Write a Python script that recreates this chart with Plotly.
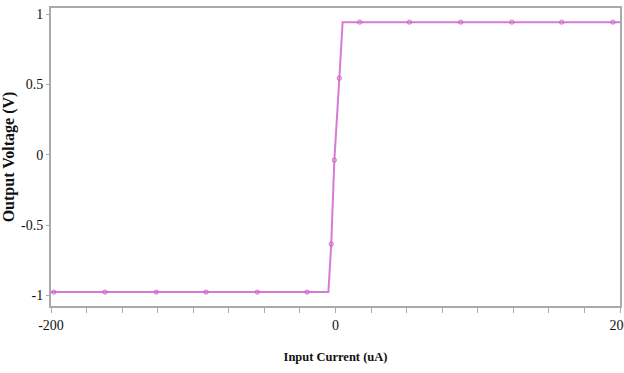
import plotly.graph_objects as go

# Data
current_ua = [-200, -198, -162, -126, -91, -55, -20, -5, -3, -0.8, 2.7, 5, 17, 52, 88, 124, 159, 195, 200]
voltage_v = [-0.975, -0.975, -0.975, -0.975, -0.975, -0.975, -0.975, -0.975, -0.634, -0.037, 0.545,
             0.943, 0.943, 0.943, 0.943, 0.943, 0.943, 0.943, 0.943]
has_marker = [0, 1, 1, 1, 1, 1, 1, 0, 1, 1, 1, 0, 1, 1, 1, 1, 1, 1, 0]

x_tickvals = list(range(-200, 201, 25))
x_ticktext = [str(v) if v in (-200, 0, 200) else "" for v in x_tickvals]
y_tickvals = [-1, -0.5, 0, 0.5, 1]
y_ticktext = ["-1", "-0.5", "0", "0.5", "1"]

line_color = "#d67ad8"
marker_sizes = [4 if m else 0 for m in has_marker]

fig = go.Figure()
fig.add_trace(go.Scatter(
    x=current_ua, y=voltage_v, mode="lines+markers",
    line=dict(color=line_color, width=2),
    marker=dict(symbol="circle-open", size=marker_sizes, color="#c855c8",
                line=dict(width=1.2, color="#c855c8")),
    showlegend=False, hoverinfo="skip", cliponaxis=False,
))

axis_font = dict(family="Liberation Serif, Times New Roman, serif", size=14, color="#111")
xtitle_font = dict(family="Liberation Serif, serif", size=12.5, color="#111")
ytitle_font = dict(family="Liberation Serif, serif", size=16, color="#111")
fig.update_layout(
    width=624, height=373,
    margin=dict(l=51, r=4, t=8, b=67, autoexpand=False),
    paper_bgcolor="white", plot_bgcolor="white",
    font=axis_font,
    xaxis=dict(
        range=[-200, 200], tickvals=x_tickvals, ticktext=x_ticktext,
        ticks="outside", ticklen=5, tickcolor="#aaaaaa", tickwidth=1,
        showline=True, linecolor="#aaaaaa", linewidth=2, mirror=True,
        showgrid=False, zeroline=False, automargin=False,
        ticklabeloverflow="allow",
        title=dict(text="<b>Input Current (uA)</b>", standoff=20, font=xtitle_font),
        tickfont=axis_font,
    ),
    yaxis=dict(
        range=[-1.074, 1.044], tickvals=y_tickvals, ticktext=y_ticktext,
        ticks="outside", ticklen=3, tickcolor="#aaaaaa", tickwidth=1,
        showline=True, linecolor="#aaaaaa", linewidth=2, mirror=True,
        showgrid=False, zeroline=False, automargin=False,
        ticklabeloverflow="allow",
        title=dict(text="<b>Output Voltage (V)</b>", standoff=2, font=ytitle_font),
        tickfont=axis_font,
    ),
)

fig.write_html(
    "out.html",
    config={"displayModeBar": False},
    post_script="document.body.style.margin='0';document.body.style.overflow='hidden';",
)
